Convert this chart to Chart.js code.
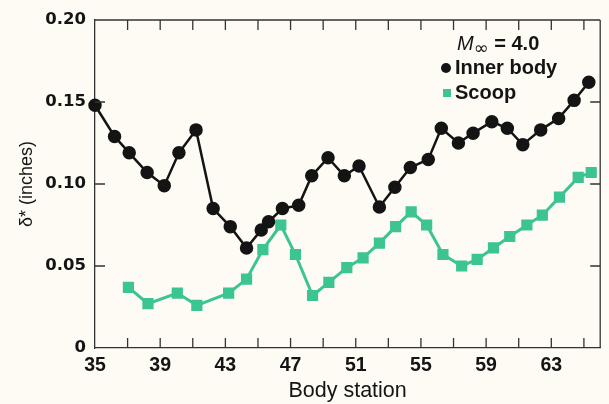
<!DOCTYPE html>
<html>
<head>
<meta charset="utf-8">
<script src="https://cdn.jsdelivr.net/npm/chart.js@4/dist/chart.umd.min.js"></script>
<style>
html,body{margin:0;padding:0;background:#fdfbf3;}
#wrap{width:609px;height:404px;position:relative;}
</style>
</head>
<body>
<div id="wrap"><canvas id="c" width="609" height="404"></canvas></div>
<script>
// ---- data ----
const innerStations = [35, 36.2, 37.1, 38.2, 39.25, 40.15, 41.2, 42.25, 43.3, 44.3, 45.2, 45.65, 46.5, 47.5, 48.3, 49.3, 50.3, 51.2, 52.45, 53.4, 54.35, 55.45, 56.25, 57.3, 58.2, 59.35, 60.3, 61.25, 62.35, 63.45, 64.4, 65.3];
const innerValues   = [0.148, 0.129, 0.119, 0.107, 0.099, 0.119, 0.133, 0.085, 0.074, 0.061, 0.072, 0.077, 0.085, 0.087, 0.105, 0.116, 0.105, 0.111, 0.086, 0.098, 0.110, 0.115, 0.134, 0.125, 0.131, 0.138, 0.134, 0.124, 0.133, 0.140, 0.151, 0.162];
const scoopStations = [37.05, 38.25, 40.05, 41.25, 43.2, 44.3, 45.3, 46.4, 47.3, 48.35, 49.35, 50.45, 51.45, 52.45, 53.45, 54.4, 55.35, 56.35, 57.5, 58.45, 59.45, 60.45, 61.5, 62.45, 63.5, 64.65, 65.45];
const scoopValues   = [0.037, 0.027, 0.0335, 0.026, 0.0335, 0.042, 0.060, 0.075, 0.057, 0.032, 0.040, 0.049, 0.055, 0.064, 0.074, 0.083, 0.075, 0.057, 0.050, 0.054, 0.061, 0.068, 0.075, 0.081, 0.092, 0.104, 0.107];
const xTickLabels = [35, 39, 43, 47, 51, 55, 59, 63];
const xMinorTicks = [37, 39, 41, 43, 45, 47, 49, 51, 53, 55, 57, 59, 61, 63, 65];
const yTickLabels = [0, 0.05, 0.10, 0.15, 0.20];
const yMinorTicks = [0.05, 0.10, 0.15];
const seriesNames = ['Inner body', 'Scoop'];
const machLabel = ['M', '\u221E', ' = 4.0'];

const BLACK = '#141414';
const GREEN = '#3cc492';
const BG = '#fdfbf3';

const toPts = (xs, ys) => xs.map((x, i) => ({x: x, y: ys[i]}));

const bgPlugin = {
  id: 'bg',
  beforeDraw(chart) {
    const ctx = chart.ctx;
    ctx.save();
    ctx.fillStyle = BG;
    ctx.fillRect(0, 0, chart.width, chart.height);
    ctx.restore();
  }
};

const framePlugin = {
  id: 'frame',
  afterDatasetsDraw(chart) {
    const {ctx, chartArea: a, scales} = chart;
    ctx.save();
    ctx.strokeStyle = '#333';
    ctx.lineWidth = 1.3;
    ctx.beginPath();
    ctx.moveTo(a.left, a.top); ctx.lineTo(a.right, a.top);
    ctx.moveTo(a.right, a.top); ctx.lineTo(a.right, a.bottom);
    const L = 10;
    xMinorTicks.forEach(v => {
      const px = scales.x.getPixelForValue(v);
      ctx.moveTo(px, a.bottom); ctx.lineTo(px, a.bottom - L);
      ctx.moveTo(px, a.top); ctx.lineTo(px, a.top + L);
    });
    yMinorTicks.forEach(v => {
      const py = scales.y.getPixelForValue(v);
      ctx.moveTo(a.left, py); ctx.lineTo(a.left + L, py);
      ctx.moveTo(a.right, py); ctx.lineTo(a.right - L, py);
    });
    ctx.stroke();
    ctx.restore();
  }
};

const legendPlugin = {
  id: 'customLegend',
  afterDraw(chart) {
    const ctx = chart.ctx;
    const ds = chart.data.datasets;
    ctx.save();
    ctx.textBaseline = 'middle';
    ctx.fillStyle = BLACK;
    // Mach line
    let x = 457, y = 44;
    ctx.font = 'italic 20px "Liberation Sans"';
    ctx.fillText(machLabel[0], x, y);
    x += ctx.measureText(machLabel[0]).width;
    ctx.font = '18px "DejaVu Sans"';
    ctx.fillText(machLabel[1], x, y + 5);
    x += ctx.measureText(machLabel[1]).width;
    ctx.font = 'bold 20px "Liberation Sans"';
    ctx.fillText(machLabel[2], x, y);
    // series
    const rows = [68, 93];
    ds.forEach((d, i) => {
      const yy = rows[i];
      ctx.fillStyle = d.pointBackgroundColor;
      if (d.pointStyle === 'rect') {
        ctx.fillRect(443, yy - 4, 8, 8);
      } else {
        ctx.beginPath();
        ctx.arc(446, yy, 5, 0, Math.PI * 2);
        ctx.fill();
      }
      ctx.fillStyle = BLACK;
      ctx.font = 'bold 20px "Liberation Sans"';
      ctx.fillText(d.label, 455, yy);
    });
    ctx.restore();
  }
};

new Chart(document.getElementById('c'), {
  type: 'scatter',
  data: {
    datasets: [
      {
        label: seriesNames[0],
        data: toPts(innerStations, innerValues),
        showLine: true,
        borderColor: BLACK,
        backgroundColor: BLACK,
        pointBackgroundColor: BLACK,
        pointBorderColor: BLACK,
        borderWidth: 2.5,
        pointRadius: 5.5,
        pointStyle: 'circle',
        clip: false
      },
      {
        label: seriesNames[1],
        data: toPts(scoopStations, scoopValues),
        showLine: true,
        borderColor: GREEN,
        backgroundColor: GREEN,
        pointBackgroundColor: GREEN,
        pointBorderColor: GREEN,
        borderWidth: 3,
        pointRadius: 5.8,
        pointStyle: 'rect',
        clip: false
      }
    ]
  },
  options: {
    responsive: false,
    animation: false,
    devicePixelRatio: 1,
    layout: {padding: {top: 20, right: 1, left: 0, bottom: 0}},
    plugins: {legend: {display: false}, tooltip: {enabled: false}},
    scales: {
      x: {
        type: 'linear',
        min: 35, max: 66,
        grid: {display: false, drawTicks: false},
        border: {display: true, color: '#333', width: 1.3},
        afterBuildTicks(scale) { scale.ticks = xTickLabels.map(v => ({value: v})); },
        afterFit(scale) { scale.height = 56; },
        ticks: {
          color: BLACK,
          padding: 6,
          maxRotation: 0,
          autoSkip: false,
          font: {family: '"Liberation Sans"', size: 19.5, weight: 'bold'},
          callback: v => String(v)
        },
        title: {
          display: true,
          text: 'Body station',
          color: BLACK,
          font: {family: '"Liberation Sans"', size: 21.5},
          padding: {top: 0, bottom: 0}
        }
      },
      y: {
        type: 'linear',
        min: 0, max: 0.2,
        grid: {display: false, drawTicks: false},
        border: {display: true, color: '#333', width: 1.3},
        afterBuildTicks(scale) { scale.ticks = yTickLabels.map(v => ({value: v})); },
        afterFit(scale) { scale.width = 95; },
        ticks: {
          color: BLACK,
          padding: 9,
          font: {family: '"DejaVu Sans"', size: 16.5, weight: 'bold'},
          callback: v => (v === 0 ? '0' : v.toFixed(2))
        },
        title: {
          display: true,
          text: '\u03B4* (inches)',
          color: BLACK,
          font: {family: '"Liberation Sans"', size: 18},
          padding: {top: 16, bottom: 0}
        }
      }
    }
  },
  plugins: [bgPlugin, framePlugin, legendPlugin]
});
</script>
</body>
</html>
